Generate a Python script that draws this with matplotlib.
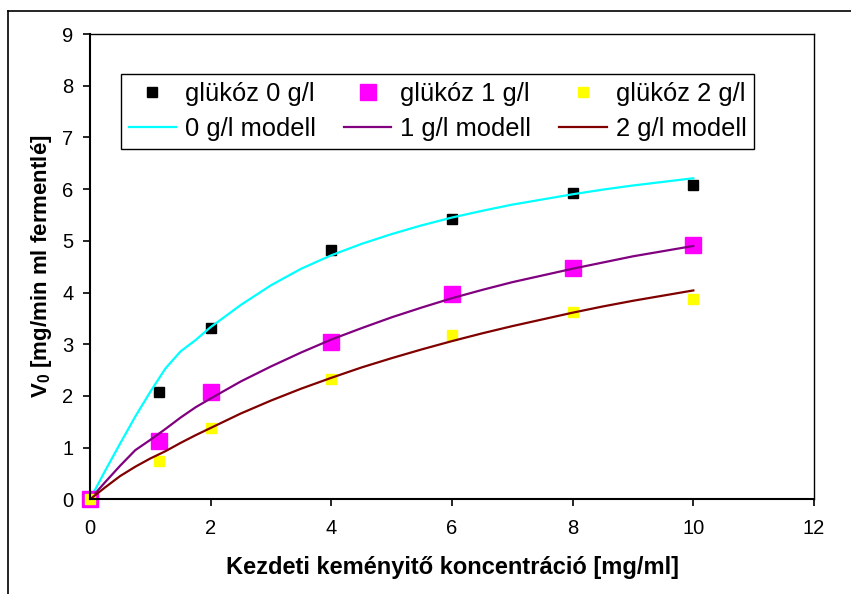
import matplotlib
matplotlib.use("Agg")
import matplotlib.pyplot as plt
from matplotlib.lines import Line2D

plt.rcParams["font.family"] = ["Liberation Sans", "DejaVu Sans"]
plt.rcParams["mathtext.fontset"] = "custom"
plt.rcParams["mathtext.rm"] = "Liberation Sans:bold"
plt.rcParams["mathtext.bf"] = "Liberation Sans:bold"

# Mért kezdeti sebességek
konc = [0, 1.15, 2, 4, 6, 8, 10]
v_glu0 = [0, 2.07, 3.32, 4.83, 5.43, 5.92, 6.07]
v_glu1 = [0, 1.12, 2.08, 3.05, 3.98, 4.48, 4.92]
v_glu2 = [0, 0.75, 1.37, 2.33, 3.18, 3.62, 3.88]

# Modell görbék
konc_m = [0, 0.25, 0.5, 0.75, 1, 1.25, 1.5, 1.75, 2, 2.5, 3, 3.5, 4, 4.5,
          5, 5.5, 6, 6.5, 7, 7.5, 8, 8.5, 9, 9.5, 10]
modell0 = [0, 0.55, 1.08, 1.60, 2.08, 2.53, 2.86, 3.08, 3.33, 3.76, 4.14,
           4.46, 4.72, 4.94, 5.13, 5.30, 5.45, 5.58, 5.70, 5.80, 5.90, 5.99,
           6.07, 6.14, 6.21]
modell1 = [0, 0.33, 0.65, 0.95, 1.15, 1.36, 1.58, 1.78, 1.95, 2.28, 2.57,
           2.84, 3.09, 3.31, 3.52, 3.71, 3.89, 4.05, 4.20, 4.33, 4.46, 4.58,
           4.70, 4.80, 4.90]
modell2 = [0, 0.23, 0.45, 0.63, 0.79, 0.93, 1.09, 1.24, 1.38, 1.66, 1.91,
           2.14, 2.35, 2.55, 2.73, 2.90, 3.06, 3.21, 3.35, 3.48, 3.61, 3.73,
           3.84, 3.94, 4.04]

fig = plt.figure(figsize=(8.51, 5.94), dpi=100)
ax = fig.add_axes([90 / 851, 1 - 499.3 / 594, 724 / 851, 465.3 / 594])

ax.plot(konc, v_glu0, ls="", marker="s", ms=7, color="black",
        label="glükóz 0 g/l", clip_on=False)
ax.plot(konc_m, modell0, color="#00FFFF", lw=1.6, label="0 g/l modell")
ax.plot(konc, v_glu1, ls="", marker="s", ms=11, color="#FF00FF",
        label="glükóz 1 g/l", clip_on=False)
ax.plot(konc_m, modell1, color="#800080", lw=1.6, label="1 g/l modell")
ax.plot(konc, v_glu2, ls="", marker="s", ms=7, color="#FFFF00",
        label="glükóz 2 g/l", clip_on=False)
ax.plot(konc_m, modell2, color="#800000", lw=1.6, label="2 g/l modell")

ax.set_xlim(0, 12)
ax.set_ylim(0, 9)
ax.set_xticks(range(0, 13, 2))
ax.set_yticks(range(0, 10))
ax.tick_params(direction="out", length=5, width=1.2, labelsize=14.5)
ax.tick_params(axis="x", pad=9)
ax.tick_params(axis="y", pad=7)
for s in ["left", "bottom"]:
    ax.spines[s].set_linewidth(1.5)
for s in ["top", "right"]:
    ax.spines[s].set_linewidth(1.0)

ax.set_xlabel("Kezdeti keményitő koncentráció [mg/ml]", fontsize=17,
              fontweight="bold", labelpad=13)
ax.set_ylabel(r"V$_{\mathbf{0}}$ [mg/min ml fermentlé]", fontsize=16,
              fontweight="bold", labelpad=6)

leg = ax.legend(ncol=3, loc="upper left", bbox_to_anchor=(0.0428, 0.914),
                borderaxespad=0, fontsize=18.4, frameon=True, fancybox=False,
                edgecolor="black", framealpha=1, handlelength=1.85,
                handletextpad=0.35, columnspacing=1.1, borderpad=0.3,
                labelspacing=0.45)
leg.get_frame().set_linewidth(1.0)

# külső keret
fig.add_artist(Line2D([8 / 851, 1], [1 - 11 / 594, 1 - 11 / 594],
                      color="black", lw=1.2, transform=fig.transFigure))
fig.add_artist(Line2D([8 / 851, 8 / 851], [0, 1 - 11 / 594],
                      color="black", lw=1.2, transform=fig.transFigure))

fig.savefig("out.png", dpi=100)
